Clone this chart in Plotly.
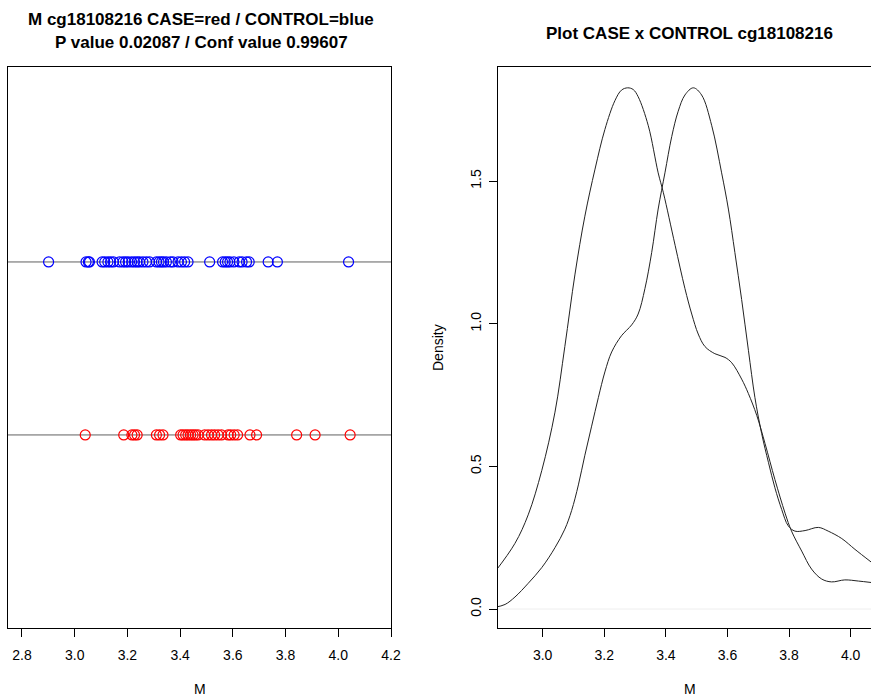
import plotly.graph_objects as go

# ---- data ----
control_M = [2.901, 3.043, 3.052, 3.056, 3.104, 3.114, 3.126, 3.136, 3.147, 3.170,
             3.183, 3.193, 3.203, 3.216, 3.227, 3.237, 3.246, 3.259, 3.272, 3.284,
             3.310, 3.320, 3.329, 3.337, 3.348, 3.363, 3.373, 3.392, 3.405, 3.417,
             3.430, 3.512, 3.561, 3.571, 3.580, 3.589, 3.604, 3.624, 3.635, 3.652,
             3.662, 3.734, 3.769, 4.039]
case_M = [3.040, 3.186, 3.217, 3.227, 3.237, 3.310, 3.322, 3.335, 3.402, 3.411,
          3.421, 3.430, 3.440, 3.449, 3.458, 3.468, 3.493, 3.506, 3.519, 3.531,
          3.544, 3.557, 3.582, 3.592, 3.605, 3.618, 3.665, 3.690, 3.842, 3.912, 4.045]

group_level = {"CASE": 1, "CONTROL": 2}

ctrl_dens_x = [2.845, 2.910, 2.953, 2.997, 3.040, 3.072, 3.105, 3.137, 3.170, 3.202,
               3.235, 3.256, 3.276, 3.294, 3.310, 3.343, 3.375, 3.392, 3.430, 3.462,
               3.484, 3.505, 3.527, 3.559, 3.592, 3.614, 3.646, 3.668, 3.695, 3.722,
               3.754, 3.787, 3.808, 3.841, 3.873, 3.906, 3.938, 3.981, 4.025, 4.066]
ctrl_dens_y = [0.130, 0.230, 0.330, 0.485, 0.690, 0.920, 1.174, 1.377, 1.542, 1.681,
               1.783, 1.819, 1.827, 1.821, 1.796, 1.694, 1.529, 1.459, 1.275, 1.123,
               1.034, 0.964, 0.920, 0.895, 0.882, 0.863, 0.806, 0.755, 0.679, 0.580,
               0.454, 0.336, 0.273, 0.203, 0.140, 0.105, 0.095, 0.102, 0.098, 0.093]

case_dens_x = [2.845, 2.878, 2.910, 2.953, 2.997, 3.040, 3.072, 3.094, 3.116, 3.137,
               3.159, 3.181, 3.202, 3.224, 3.256, 3.289, 3.310, 3.332, 3.354, 3.375,
               3.397, 3.419, 3.440, 3.462, 3.489, 3.516, 3.549, 3.581, 3.603, 3.624,
               3.646, 3.668, 3.689, 3.711, 3.733, 3.754, 3.776, 3.797, 3.819, 3.852,
               3.895, 3.927, 3.971, 4.014, 4.066]
case_dens_y = [0.006, 0.016, 0.042, 0.090, 0.145, 0.215, 0.280, 0.345, 0.435, 0.539,
               0.641, 0.742, 0.831, 0.901, 0.958, 0.996, 1.034, 1.123, 1.250, 1.402,
               1.529, 1.656, 1.745, 1.802, 1.827, 1.802, 1.694, 1.529, 1.402, 1.250,
               1.085, 0.907, 0.742, 0.615, 0.514, 0.425, 0.349, 0.292, 0.273, 0.275,
               0.286, 0.273, 0.247, 0.209, 0.165]

left_ticks = [2.8, 3.0, 3.2, 3.4, 3.6, 3.8, 4.0, 4.2]
right_xticks = [3.0, 3.2, 3.4, 3.6, 3.8, 4.0]
right_yticks = [0.0, 0.5, 1.0, 1.5]

title_left_1 = "M cg18108216 CASE=red / CONTROL=blue"
title_left_2 = "P value 0.02087 / Conf value 0.99607"
title_right = "Plot CASE x CONTROL cg18108216"

# ---- figure ----
W, H = 871, 698
FONT = "Liberation Sans, Arial, sans-serif"

def px_x(p):
    return p / W

def px_y(p):
    return 1 - p / H

fig = go.Figure()

fig.add_trace(go.Scatter(
    x=control_M, y=[group_level["CONTROL"]] * len(control_M), mode="markers",
    marker=dict(symbol="circle-open", size=10, color="#0000ff", line=dict(width=1.2)),
    xaxis="x", yaxis="y", showlegend=False, hoverinfo="x"))
fig.add_trace(go.Scatter(
    x=case_M, y=[group_level["CASE"]] * len(case_M), mode="markers",
    marker=dict(symbol="circle-open", size=10, color="#ff0000", line=dict(width=1.2)),
    xaxis="x", yaxis="y", showlegend=False, hoverinfo="x"))

fig.add_trace(go.Scatter(x=ctrl_dens_x, y=ctrl_dens_y, mode="lines",
                         line=dict(color="#222222", width=1, shape="spline"),
                         xaxis="x2", yaxis="y2", showlegend=False))
fig.add_trace(go.Scatter(x=case_dens_x, y=case_dens_y, mode="lines",
                         line=dict(color="#222222", width=1, shape="spline"),
                         xaxis="x2", yaxis="y2", showlegend=False))

shapes = []
for lvl in group_level.values():
    shapes.append(dict(type="line", xref="x domain", yref="y", x0=0, x1=1, y0=lvl, y1=lvl,
                       line=dict(color="#606060", width=1), layer="below"))
shapes.append(dict(type="line", xref="x2 domain", yref="y2", x0=0, x1=1, y0=0, y1=0,
                   line=dict(color="#eeeeee", width=1), layer="below"))

ydom = [px_y(628), px_y(67)]
tickfont = dict(family=FONT, size=14, color="#000000")

fig.update_layout(
    width=W, height=H, margin=dict(l=0, r=0, t=0, b=0, autoexpand=False),
    paper_bgcolor="white", plot_bgcolor="white",
    shapes=shapes,
    xaxis=dict(domain=[px_x(8), px_x(391)], range=[2.747, 4.2], tickvals=left_ticks,
               ticktext=[f"{v:.1f}" for v in left_ticks], ticks="outside", ticklen=8,
               tickcolor="#000", showline=True, linecolor="#000", linewidth=1, mirror=True,
               showgrid=False, zeroline=False, tickfont=tickfont, anchor="y",
               ticklabelstandoff=6, automargin=False),
    yaxis=dict(domain=ydom, range=[-0.116, 3.127], showticklabels=False, ticks="",
               showline=True, linecolor="#000", linewidth=1, mirror=True, showgrid=False,
               zeroline=False, anchor="x", automargin=False),
    xaxis2=dict(domain=[px_x(498), 1.0], range=[2.855, 4.066], tickvals=right_xticks,
                ticktext=[f"{v:.1f}" for v in right_xticks], ticks="outside", ticklen=8,
                tickcolor="#000", showline=True, linecolor="#000", linewidth=1, mirror=True,
                showgrid=False, zeroline=False, tickfont=tickfont, anchor="y2",
                ticklabelstandoff=6, automargin=False),
    yaxis2=dict(domain=ydom, range=[-0.0666, 1.900], tickvals=right_yticks,
                ticktext=[f"{v:.1f}" for v in right_yticks], ticks="outside", ticklen=8,
                tickcolor="#000", showline=True, linecolor="#000", linewidth=1, mirror=False,
                showgrid=False, zeroline=False, tickfont=tickfont, tickangle=-90,
                anchor="x2", ticklabelstandoff=2, automargin=False),
)

ann = []
tfont = dict(family=FONT, size=17, color="#000000")
ann.append(dict(text=f"<b>{title_left_1}</b>", x=px_x(201), y=px_y(19), xref="paper", yref="paper",
                showarrow=False, xanchor="center", yanchor="middle", font=tfont))
ann.append(dict(text=f"<b>{title_left_2}</b>", x=px_x(201), y=px_y(43), xref="paper", yref="paper",
                showarrow=False, xanchor="center", yanchor="middle", font=tfont))
ann.append(dict(text=f"<b>{title_right}</b>", x=px_x(689), y=px_y(33), xref="paper", yref="paper",
                showarrow=False, xanchor="center", yanchor="middle", font=tfont))
lfont = dict(family=FONT, size=14, color="#000000")
ann.append(dict(text="M", x=px_x(200), y=px_y(689), xref="paper", yref="paper",
                showarrow=False, xanchor="center", yanchor="middle", font=lfont))
ann.append(dict(text="M", x=px_x(690), y=px_y(689), xref="paper", yref="paper",
                showarrow=False, xanchor="center", yanchor="middle", font=lfont))
ann.append(dict(text="Density", x=px_x(438), y=px_y(348), xref="paper", yref="paper",
                showarrow=False, xanchor="center", yanchor="middle", textangle=-90, font=lfont))
fig.update_layout(annotations=ann)

fig.write_html("out.html")
